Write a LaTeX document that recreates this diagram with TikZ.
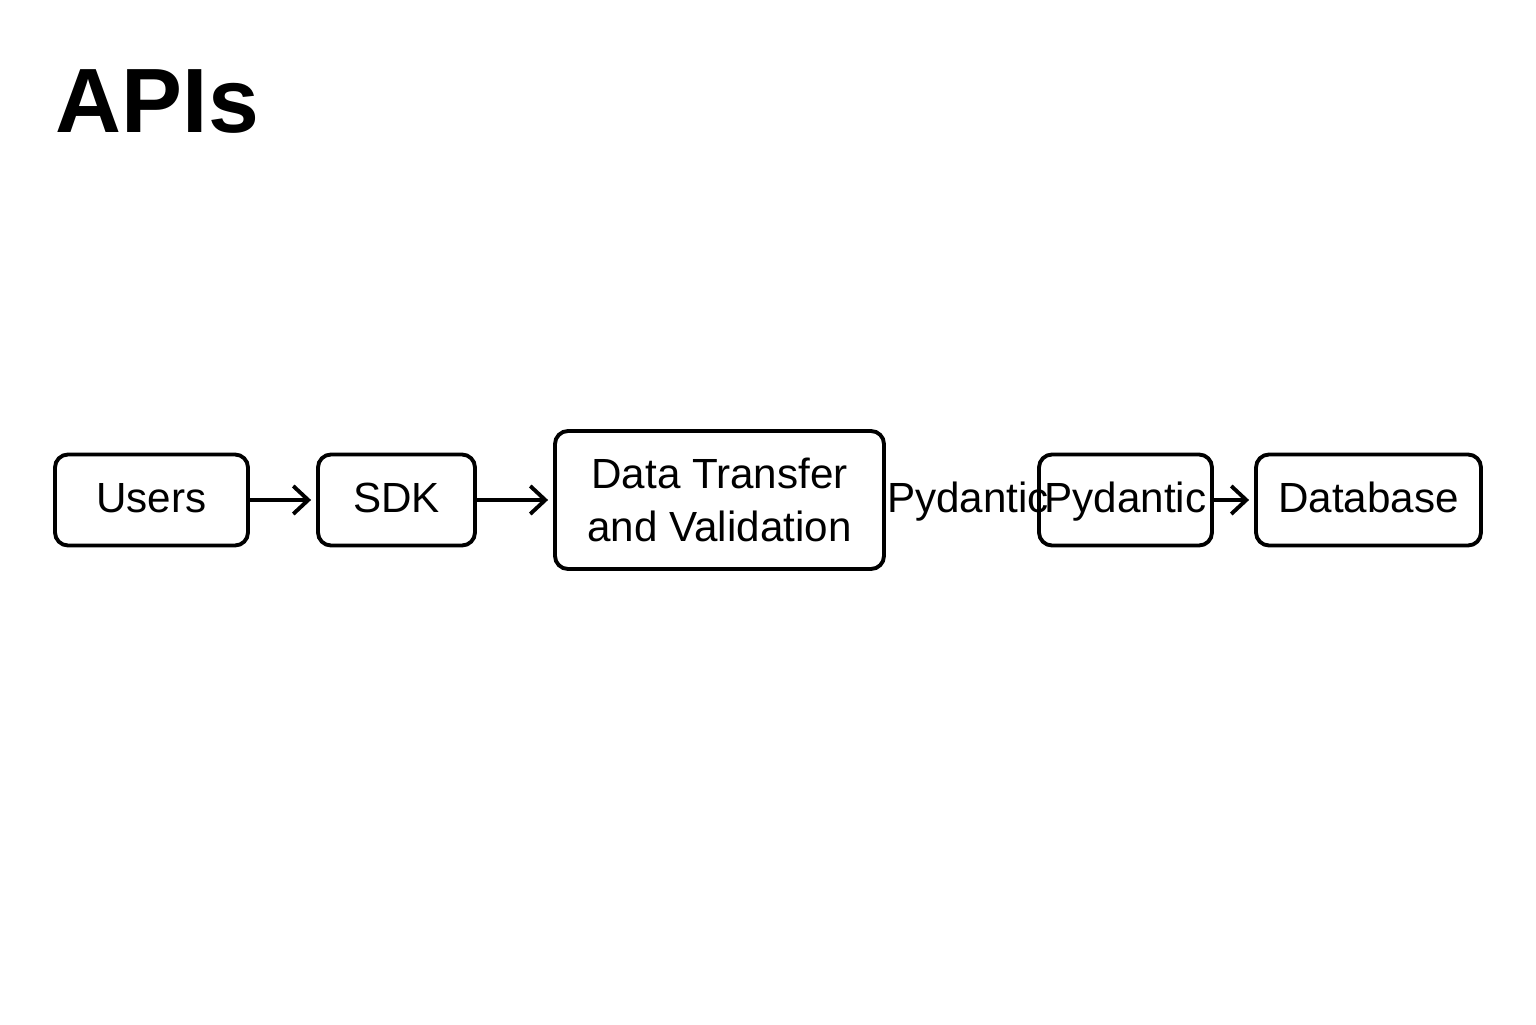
\documentclass[tikz,border=0pt]{standalone}
\usepackage{fontspec}
\setmainfont{Liberation Sans}
\usetikzlibrary{arrows.meta}

\begin{document}
\begin{tikzpicture}[box/.style={draw, line width=1.1pt, rounded corners=1.3mm, inner sep=0pt, align=center, font=\fontsize{12}{15}\selectfont},
  single/.style={text height=0.72em, text depth=0pt},
  flow/.style={line width=1.1pt, -{Straight Barb[length=1.5mm, width=2.8mm, line width=1.1pt]}, shorten >=0.5mm}]
\useasboundingbox (0,0) rectangle (15.36,10.24);
\node (title) [anchor=base west, inner sep=0pt, font=\fontsize{26}{30}\selectfont\bfseries] at (0.55,8.91) {APIs};

\node (pydlabel) at (9.68,5.24) [single, inner sep=0pt, font=\fontsize{12}{15}\selectfont] {Pydantic};
\foreach \n/\x/\w/\h/\s/\t in {users/1.515/1.93/0.91/single/Users, sdk/3.965/1.57/0.91/single/SDK, dtv/7.195/3.29/1.38/box/{Data Transfer\\and Validation}, pyd/11.255/1.73/0.91/single/Pydantic, db/13.685/2.25/0.91/single/Database} {
  \node (\n) at (\x,5.24) [box, \s, minimum width=\w cm, minimum height=\h cm] {\t};
}

\draw[flow] (users) -- (sdk);
\draw[flow] (sdk) -- (dtv);
\draw[flow] (pyd) -- (db);
\end{tikzpicture}
\end{document}
